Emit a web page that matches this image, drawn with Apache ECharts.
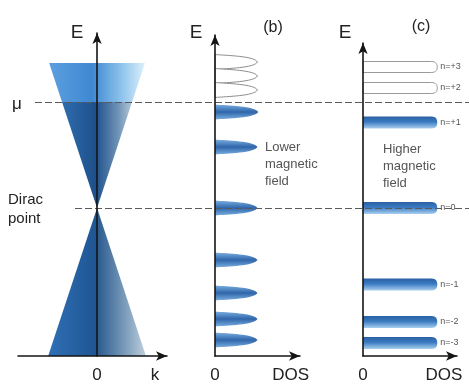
<!DOCTYPE html>
<html>
<head>
<meta charset="utf-8">
<script src="https://cdn.jsdelivr.net/npm/echarts@6/dist/echarts.min.js"></script>
<style>
  html, body { margin: 0; padding: 0; background: #fff; }
  #chart { width: 469px; height: 385px; }
</style>
</head>
<body>
<div id="chart"></div>
<script>
// ---- Energy scale shared by all three panels (Dirac point at E = 0) ----
const MU = 10.6;               // chemical potential
const DIRAC_E = 0;
const CONE_TOP_E = 14.5;       // upper end of the drawn cone
const CONE_BOTTOM_E = -14.8;   // lower cone meets the k axis
const FERMI_VELOCITY = 14.5;   // E per unit k along the cone

// ---- Landau levels, lower magnetic field (panel b) ----
const lowFieldE   = [14.6, 13.2, 11.8, 9.6, 6.1, 0, -5.2, -8.5, -11.1, -13.2];
const lowFieldDOS = [5.0, 5.0, 5.0, 5.1, 5.0, 5.0, 5.0, 5.0, 5.0, 5.0];

// ---- Landau levels, higher magnetic field (panel c) ----
const highFieldN   = ['+3', '+2', '+1', '0', '-1', '-2', '-3'];
const highFieldE   = [14.1, 12.0, 8.55, 0, -7.65, -11.4, -13.5];
const highFieldDOS = [7.9, 7.9, 7.9, 7.9, 7.9, 7.9, 7.9];

// ---- tick labels ----
const kTickValues = [0, 1.21];
const kTickLabels = ['0', 'k'];
const dosTickLabels = ['0', 'DOS'];

const FONT = 'Liberation Sans, Arial, sans-serif';
const E_MIN = CONE_BOTTOM_E;
const G = echarts.graphic;

const chart = echarts.init(document.getElementById('chart'));

// cone pieces: [E low, E high, side] (side -1 left half, 1 right half, 0 both)
const conePieces = [
  [MU, CONE_TOP_E, 0],
  [DIRAC_E, MU, -1],
  [DIRAC_E, MU, 1],
  [CONE_BOTTOM_E, DIRAC_E, -1],
  [CONE_BOTTOM_E, DIRAC_E, 1]
];
const coneFills = [
  new G.LinearGradient(0, 0, 1, 0, [
    { offset: 0, color: '#5c9fe0' }, { offset: 0.45, color: '#3f88d2' },
    { offset: 0.75, color: '#8cc2ec' }, { offset: 1, color: '#dcf0fb' }]),
  new G.LinearGradient(0, 0, 1, 0, [
    { offset: 0, color: '#2f6cae' }, { offset: 1, color: '#1d4f89' }]),
  new G.LinearGradient(0, 0, 1, 0, [
    { offset: 0, color: '#23558f' }, { offset: 0.6, color: '#6f93b6' }, { offset: 1, color: '#b3c8d8' }]),
  new G.LinearGradient(0, 0, 1, 0, [
    { offset: 0, color: '#2f6fb5' }, { offset: 1, color: '#1f5592' }]),
  new G.LinearGradient(0, 0, 1, 0, [
    { offset: 0, color: '#2a5a8e' }, { offset: 0.6, color: '#7f9fbd' }, { offset: 1, color: '#c0d0dc' }])
];

function renderCone(params, api) {
  const lo = api.value(0), hi = api.value(1), side = api.value(2);
  const kLo = Math.abs(lo) / FERMI_VELOCITY, kHi = Math.abs(hi) / FERMI_VELOCITY;
  let pts;
  if (side === 0) pts = [[-kLo, lo], [-kHi, hi], [kHi, hi], [kLo, lo]];
  else if (side < 0) pts = [[-kLo, lo], [-kHi, hi], [0, hi], [0, lo]];
  else pts = [[0, lo], [0, hi], [kHi, hi], [kLo, lo]];
  return {
    type: 'polygon',
    shape: { points: pts.map(p => api.coord(p)) },
    style: { fill: coneFills[params.dataIndex] }
  };
}

// Landau-level peak of the density of states, drawn sideways from the E axis
function peakPath(api, e, h, hw, blunt) {
  const base = api.coord([0, e]);
  const tip = api.coord([h, e]);
  const top = api.coord([0, e + hw]);
  const bot = api.coord([0, e - hw]);
  const x0 = base[0], x1 = tip[0], yc = base[1];
  const L = x1 - x0, d = yc - top[1], d2 = bot[1] - yc;
  if (blunt) {
    return 'M' + x0 + ' ' + top[1] +
      ' L' + (x1 - 0.08 * L) + ' ' + top[1] +
      ' C' + (x1 - 0.01 * L) + ' ' + top[1] + ' ' + x1 + ' ' + (yc - 0.4 * d) + ' ' + x1 + ' ' + yc +
      ' C' + x1 + ' ' + (yc + 0.4 * d2) + ' ' + (x1 - 0.01 * L) + ' ' + bot[1] + ' ' + (x1 - 0.08 * L) + ' ' + bot[1] +
      ' L' + x0 + ' ' + bot[1] + ' Z';
  }
  return 'M' + x0 + ' ' + top[1] +
    ' C' + (x0 + 0.3 * L) + ' ' + (yc - 0.85 * d) + ' ' + (x1 - 0.08 * L) + ' ' + (yc - 0.8 * d) + ' ' + x1 + ' ' + yc +
    ' C' + (x1 - 0.08 * L) + ' ' + (yc + 0.8 * d2) + ' ' + (x0 + 0.3 * L) + ' ' + (yc + 0.85 * d2) + ' ' + x0 + ' ' + bot[1] + ' Z';
}

const lowFill = new G.LinearGradient(0, 0, 0, 1, [
  { offset: 0, color: '#7aaee0' }, { offset: 0.5, color: '#2f66aa' }, { offset: 1, color: '#7aaee0' }]);
const highFill = new G.LinearGradient(0, 0, 0, 1, [
  { offset: 0, color: '#2a60a2' }, { offset: 0.45, color: '#3b7bc2' }, { offset: 1, color: '#a8cfee' }]);

function renderLowField(params, api) {
  const e = api.value(0), h = api.value(1);
  const filled = e < MU;
  return {
    type: 'path',
    shape: { pathData: peakPath(api, e, h, 0.75, false) },
    style: filled ? { fill: lowFill } : { fill: '#fff', stroke: '#8d8d8d', lineWidth: 1 }
  };
}

function renderHighField(params, api) {
  const e = api.value(0), h = api.value(1);
  const filled = e < MU;
  const tip = api.coord([h, e]);
  return {
    type: 'group',
    children: [
      {
        type: 'path',
        shape: { pathData: peakPath(api, e, h, filled ? 0.6 : 0.55, true) },
        style: filled ? { fill: highFill } : { fill: '#fff', stroke: '#9a9a9a', lineWidth: 1 }
      },
      {
        type: 'text',
        style: {
          text: 'n=' + highFieldN[params.dataIndex],
          x: tip[0] + 3, y: tip[1],
          align: 'left', verticalAlign: 'middle',
          textAlign: 'left', textVerticalAlign: 'middle',
          fontSize: 9, fontFamily: FONT, fill: '#555'
        }
      }
    ]
  };
}

function energyAxis(gridIndex, max, show) {
  return {
    type: 'value', gridIndex, min: E_MIN, max, z: 5,
    axisLine: show ? { show: true, onZero: true, symbol: ['none', 'arrow'], symbolSize: [7, 11],
      lineStyle: { color: '#151515', width: 1.6 } } : { show: false },
    axisTick: { show: false }, axisLabel: { show: false }, splitLine: { show: false }
  };
}

function horizAxis(gridIndex, min, max, tickValues, tickLabels, show) {
  const ax = {
    type: 'value', gridIndex, min, max, z: 5,
    axisTick: { show: false }, splitLine: { show: false },
    axisLine: show ? { show: true, onZero: false, symbol: ['none', 'arrow'], symbolSize: [7, 11],
      lineStyle: { color: '#151515', width: 1.6 } } : { show: false },
    axisLabel: { show: false }
  };
  if (show) {
    ax.axisLabel = {
      show: true, customValues: tickValues, margin: 11,
      fontSize: 17, fontFamily: FONT, color: '#222',
      formatter: v => tickLabels[tickValues.indexOf(v)] || ''
    };
  }
  return ax;
}

const refLine = (value) => ({
  symbol: 'none', silent: true, label: { show: false },
  lineStyle: { color: '#5a5a5a', width: 1, type: [7, 3] },
  data: [{ yAxis: value }]
});

const textEl = (text, x, y, size, color, align) => ({
  type: 'text', x, y, z: 10,
  style: {
    text, fontSize: size, fontFamily: FONT, fill: color || '#222',
    align: align || 'center', verticalAlign: 'middle',
    textAlign: align || 'center', textVerticalAlign: 'middle', lineHeight: size + 4
  }
});

chart.setOption({
  animation: false,
  backgroundColor: '#ffffff',
  grid: [
    { left: 18, top: 33, width: 149, height: 323 },   // (a) cone
    { left: 215, top: 35, width: 85, height: 321 },   // (b) lower field
    { left: 363, top: 43, width: 94, height: 313 },   // (c) higher field
    { left: 35, right: 0, top: 33, height: 323 },     // chemical potential line
    { left: 75, right: 0, top: 33, height: 323 }      // Dirac point line
  ],
  xAxis: [
    horizAxis(0, -1.65, 1.46, kTickValues, kTickLabels, true),
    horizAxis(1, 0, 10, [0, 8.9], dosTickLabels, true),
    horizAxis(2, 0, 10, [0, 8.6], dosTickLabels, true),
    horizAxis(3, 0, 1, [], [], false),
    horizAxis(4, 0, 1, [], [], false)
  ],
  yAxis: [
    energyAxis(0, 17.5, true),
    energyAxis(1, 17.3, true),
    energyAxis(2, 16.5, true),
    energyAxis(3, 17.5, false),
    energyAxis(4, 17.5, false)
  ],
  series: [
    { type: 'custom', xAxisIndex: 0, yAxisIndex: 0, z: 1, silent: true,
      renderItem: renderCone, data: conePieces },
    { type: 'custom', xAxisIndex: 1, yAxisIndex: 1, z: 1, silent: true,
      renderItem: renderLowField, encode: { x: 1, y: 0 },
      data: lowFieldE.map((e, i) => [e, lowFieldDOS[i]]) },
    { type: 'custom', xAxisIndex: 2, yAxisIndex: 2, z: 1, silent: true,
      renderItem: renderHighField, encode: { x: 1, y: 0 },
      data: highFieldE.map((e, i) => [e, highFieldDOS[i]]) },
    { type: 'line', xAxisIndex: 3, yAxisIndex: 3, z: 6, data: [], markLine: refLine(MU) },
    { type: 'line', xAxisIndex: 4, yAxisIndex: 4, z: 6, data: [], markLine: refLine(DIRAC_E) }
  ],
  graphic: [
    textEl('E', 77, 33, 19),
    textEl('E', 196, 33, 19),
    textEl('E', 345, 33, 19),
    textEl('(b)', 273, 28, 16),
    textEl('(c)', 421, 27, 16),
    textEl('μ', 17, 104, 17),
    textEl('Dirac\npoint', 8, 209, 15, '#222', 'left'),
    textEl('Lower\nmagnetic\nfield', 265, 164, 13, '#555', 'left'),
    textEl('Higher\nmagnetic\nfield', 383, 166, 13, '#555', 'left')
  ]
});
</script>
</body>
</html>
